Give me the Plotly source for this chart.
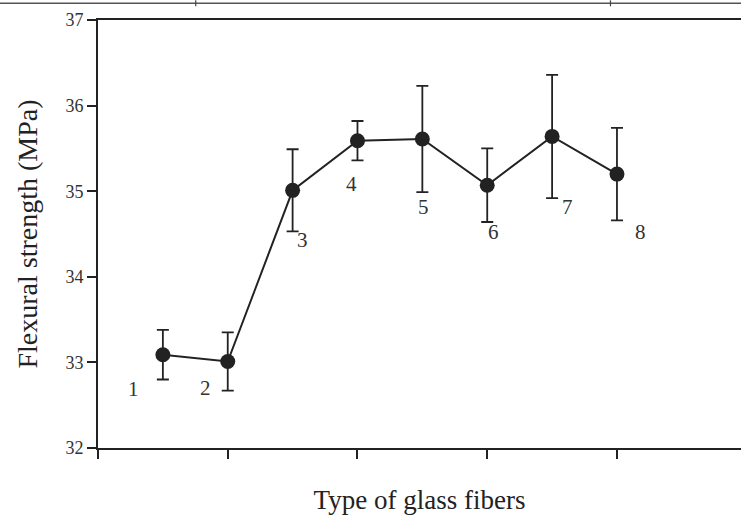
import plotly.graph_objects as go

# Flexural strength for each glass-fibre type (mean and standard deviation)
fiber_types = ["1", "2", "3", "4", "5", "6", "7", "8"]
positions = [0.5, 1.0, 1.5, 2.0, 2.5, 3.0, 3.5, 4.0]
strength = [33.09, 33.01, 35.01, 35.59, 35.61, 35.07, 35.64, 35.20]
std_dev = [0.29, 0.34, 0.48, 0.23, 0.62, 0.43, 0.72, 0.54]

# where each type number is written next to its point
label_x = [0.27, 0.83, 1.58, 1.95, 2.51, 3.05, 3.62, 4.18]
label_y = [32.69, 32.70, 34.43, 35.08, 34.82, 34.52, 34.81, 34.52]

y_ticks = [32, 33, 34, 35, 36, 37]
x_ticks = [0, 1, 2, 3, 4]

ink = "#222222"
serif = "Liberation Serif, Times New Roman, serif"

fig = go.Figure()
fig.add_trace(go.Scatter(
    x=positions, y=strength,
    mode="lines+markers",
    line=dict(color=ink, width=2),
    marker=dict(color=ink, size=15),
    error_y=dict(type="data", array=std_dev, visible=True,
                 color=ink, thickness=1.8, width=6),
    showlegend=False,
))

for t, lx, ly in zip(fiber_types, label_x, label_y):
    fig.add_annotation(x=lx, y=ly, text=t, showarrow=False,
                       font=dict(family=serif, size=21, color="#333333"))

# thin rule running across the very top of the page
fig.add_shape(type="line", xref="paper", yref="paper",
              x0=-0.153, x1=1.0, y0=1.039, y1=1.039,
              line=dict(color="#555555", width=1.5))
for vx in [0.152, 0.797]:
    fig.add_shape(type="line", xref="paper", yref="paper",
                  x0=vx, x1=vx, y0=1.032, y1=1.046,
                  line=dict(color="#444444", width=1.2))

fig.update_layout(
    width=741, height=519,
    margin=dict(l=98, r=0, t=20, b=71),
    paper_bgcolor="white", plot_bgcolor="white",
    font=dict(family=serif, color=ink),
    xaxis=dict(
        range=[0, 4.956], tickvals=x_ticks, ticktext=[""] * len(x_ticks),
        ticks="outside", ticklen=9, tickwidth=1.5, tickcolor=ink,
        showline=True, linecolor=ink, linewidth=2, mirror=True,
        showgrid=False, zeroline=False,
        title=dict(text="Type of glass fibers", standoff=30,
                   font=dict(family=serif, size=27, color=ink)),
    ),
    yaxis=dict(
        range=[32, 37], tickvals=y_ticks,
        ticks="outside", ticklen=9, tickwidth=1.5, tickcolor=ink,
        showline=True, linecolor=ink, linewidth=2,
        showgrid=False, zeroline=False,
        tickfont=dict(family=serif, size=18, color="#333333"),
        title=dict(text="Flexural strength (MPa)", standoff=20,
                   font=dict(family=serif, size=28, color=ink)),
    ),
)

fig.write_html("out.html")
